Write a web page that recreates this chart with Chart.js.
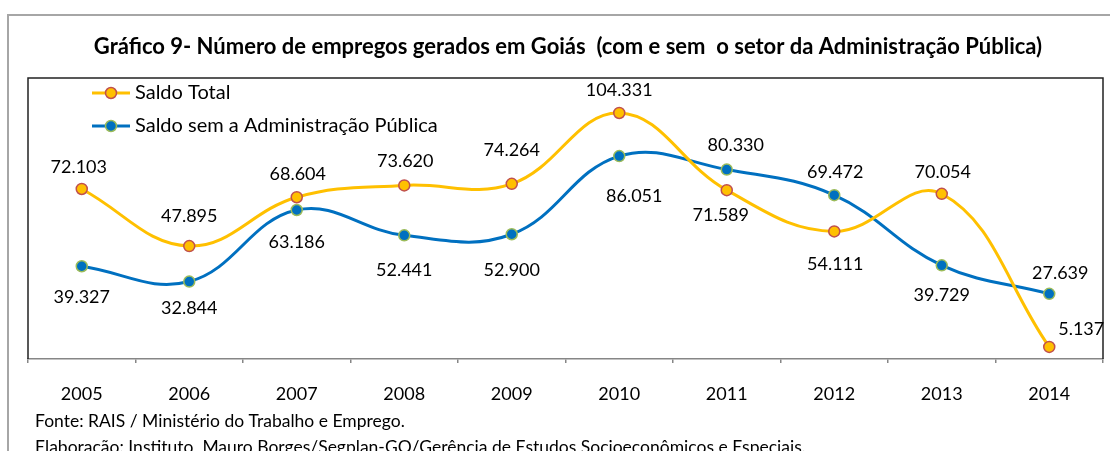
<!DOCTYPE html>
<html>
<head>
<meta charset="utf-8">
<script src="https://cdn.jsdelivr.net/npm/chart.js@4/dist/chart.umd.min.js"></script>
<style>
  html, body { margin: 0; padding: 0; background: #fff; }
  #wrap { width: 1110px; height: 451px; }
</style>
</head>
<body>
<div id="wrap"><canvas id="chart" width="1110" height="451"></canvas></div>
<script>
// Gráfico 9 — empregos gerados em Goiás (RAIS), com e sem Administração Pública
var years = ['2005', '2006', '2007', '2008', '2009', '2010', '2011', '2012', '2013', '2014'];
var saldoTotal = [72103, 47895, 68604, 73620, 74264, 104331, 71589, 54111, 70054, 5137];
var saldoSemAdm = [39327, 32844, 63186, 52441, 52900, 86051, 80330, 69472, 39729, 27639];
var seriesNames = ['Saldo Total', 'Saldo sem a Administração Pública'];
var titleText = 'Gráfico 9- Número de empregos gerados em Goiás  (com e sem  o setor da Administração Pública)';
var footnotes = [
  'Fonte: RAIS / Ministério do Trabalho e Emprego.',
  'Elaboração: Instituto  Mauro Borges/Segplan-GO/Gerência de Estudos Socioeconômicos e Especiais.'
];

// posição dos rótulos em relação ao ponto (como foram arrastados no Excel)
var totalLabelOffsets = [[-3, -22], [0, -30], [1, -23], [1, -24], [0, -34], [0, -23], [-6, 25], [1, 33], [1, -22], [32, -18]];
var semAdmLabelOffsets = [[0, 31], [0, 27], [0, 32], [0, 35], [0, 36], [15, 40], [9, -24], [1, -23], [0, 30], [11, -21]];

var FONT = 'Lato, "Open Sans", sans-serif';
var ORANGE = '#FFC000', ORANGE_EDGE = '#C0504D';
var BLUE = '#0070C0', BLUE_EDGE = '#9BBB59';

function fmt(v) { return String(v).replace(/\B(?=(\d{3})+(?!\d))/g, '.'); }

function marker(ctx, x, y, fill, edge) {
  ctx.beginPath();
  ctx.arc(x, y, 5.5, 0, Math.PI * 2);
  ctx.fillStyle = fill; ctx.fill();
  ctx.lineWidth = 1.5; ctx.strokeStyle = edge; ctx.stroke();
}

var plotFrame = {
  id: 'plotFrame',
  beforeDatasetsDraw: function(chart) {
    var a = chart.chartArea, ctx = chart.ctx;
    ctx.save();
    ctx.strokeStyle = '#222'; ctx.lineWidth = 1.5;
    ctx.beginPath();
    ctx.moveTo(a.left, a.bottom); ctx.lineTo(a.left, a.top);
    ctx.lineTo(a.right, a.top); ctx.lineTo(a.right, a.bottom);
    ctx.stroke();
    ctx.restore();
  }
};

var valueLabels = {
  id: 'valueLabels',
  afterDatasetsDraw: function(chart) {
    var ctx = chart.ctx;
    var offs = [totalLabelOffsets, semAdmLabelOffsets];
    ctx.save();
    ctx.font = '18px ' + FONT;
    ctx.fillStyle = '#000';
    ctx.textAlign = 'center';
    ctx.textBaseline = 'middle';
    chart.data.datasets.forEach(function(ds, d) {
      chart.getDatasetMeta(d).data.forEach(function(pt, i) {
        ctx.fillText(fmt(ds.data[i]), pt.x + offs[d][i][0], pt.y + offs[d][i][1]);
      });
    });
    ctx.restore();
  }
};

var legendAndNotes = {
  id: 'legendAndNotes',
  afterDraw: function(chart) {
    var ctx = chart.ctx;
    ctx.save();
    // legenda dentro da área do gráfico
    var rows = [[93, ORANGE, ORANGE_EDGE], [126, BLUE, BLUE_EDGE]];
    rows.forEach(function(r, i) {
      ctx.strokeStyle = r[1]; ctx.lineWidth = 3;
      ctx.beginPath(); ctx.moveTo(92, r[0]); ctx.lineTo(130, r[0]); ctx.stroke();
      marker(ctx, 111, r[0], r[1], r[2]);
      ctx.font = '20px ' + FONT; ctx.fillStyle = '#000';
      ctx.textAlign = 'left'; ctx.textBaseline = 'middle';
      ctx.fillText(seriesNames[i], 135, r[0]);
    });
    // rodapé cobre a parte de baixo dos anos, como no original
    ctx.fillStyle = '#fff';
    ctx.fillRect(9, 400, 1101, 51);
    ctx.fillStyle = '#000';
    ctx.font = '17.5px ' + FONT;
    ctx.textAlign = 'left'; ctx.textBaseline = 'middle';
    ctx.fillText(footnotes[0], 35, 421);
    ctx.fillText(footnotes[1], 35, 447);
    // moldura externa
    ctx.strokeStyle = '#a6a6a6'; ctx.lineWidth = 2;
    ctx.beginPath(); ctx.moveTo(8, 451); ctx.lineTo(8, 15); ctx.lineTo(1110, 15); ctx.stroke();
    ctx.restore();
  }
};

new Chart(document.getElementById('chart'), {
  type: 'line',
  data: {
    labels: years,
    datasets: [
      { label: seriesNames[0], data: saldoTotal, borderColor: ORANGE, borderWidth: 3, tension: 0.4,
        pointRadius: 5.5, pointBackgroundColor: ORANGE, pointBorderColor: ORANGE_EDGE, pointBorderWidth: 1.5 },
      { label: seriesNames[1], data: saldoSemAdm, borderColor: BLUE, borderWidth: 3, tension: 0.4,
        pointRadius: 5.5, pointBackgroundColor: BLUE, pointBorderColor: BLUE_EDGE, pointBorderWidth: 1.5 }
    ]
  },
  options: {
    responsive: false,
    animation: false,
    layout: { padding: { left: 28, right: 2, top: 0, bottom: 0 } },
    plugins: {
      legend: { display: false },
      tooltip: { enabled: false },
      title: {
        display: true, text: titleText, color: '#000',
        font: { family: FONT, size: 22, weight: 'bold' },
        padding: { top: 34, bottom: 17.5 }
      }
    },
    scales: {
      x: {
        offset: true,
        grid: { offset: true, drawOnChartArea: false, tickLength: 4, color: '#868686', lineWidth: 1.5 },
        border: { color: '#868686', width: 1.5 },
        ticks: { color: '#000', padding: 20, font: { family: FONT, size: 18 } },
        afterFit: function(s) { s.height = 92; }
      },
      y: { display: false, min: 0, max: 119200 }
    }
  },
  plugins: [plotFrame, valueLabels, legendAndNotes]
});
</script>
</body>
</html>
